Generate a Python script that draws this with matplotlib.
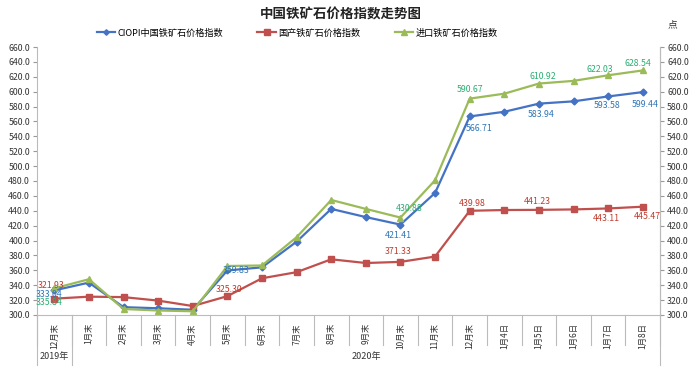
import matplotlib
matplotlib.use("Agg")
import matplotlib.pyplot as plt
import numpy as np

plt.rcParams['font.family'] = ['Noto Sans CJK SC', 'DejaVu Sans']

# categories on the x axis
categories = ['12月末', '1月末', '2月末', '3月末', '4月末', '5月末', '6月末', '7月末',
              '8月末', '9月末', '10月末', '11月末', '12月末',
              '1月4日', '1月5日', '1月6日', '1月7日', '1月8日']

# series values
ciopi = [333.04, 343.5, 310.5, 309.0, 307.0, 359.83, 364.0, 398.5, 442.5, 431.5, 421.41,
         464.0, 566.71, 573.0, 583.94, 587.0, 593.58, 599.44]
domestic = [321.93, 324.6, 324.0, 319.3, 312.0, 325.30, 349.3, 357.5, 374.8, 369.8, 371.33,
            378.5, 439.98, 441.0, 441.23, 441.8, 443.11, 445.47]
imported = [335.84, 348.0, 308.0, 306.0, 305.0, 365.8, 366.5, 404.5, 454.5, 442.5, 430.88,
            481.0, 590.67, 597.3, 610.92, 614.5, 622.03, 628.54]

# which points carry a data label, and where (offset in points)
ciopi_labels = {0: (-3.6, -3), 5: (6, 0), 10: (-1.5, -8), 12: (7, -8.5), 14: (1.5, -7.7),
                16: (-0.7, -6.5), 17: (2, -8.6)}
domestic_labels = {0: (-2.4, 9.5), 5: (1.5, 4.5), 10: (-1.5, 7.2), 12: (1.5, 5.3),
                   14: (-1, 5.8), 16: (-1.5, -7.4), 17: (3, -7.2)}
imported_labels = {0: (-3.6, -10), 10: (6.5, 6.5), 12: (0, 6.5), 14: (2.5, 5),
                   16: (-6, 4.5), 17: (-3.2, 5)}

years = ['2019年', '2020年']
ticks = np.arange(300, 661, 20)

blue, red, green = '#4472C4', '#C0504D', '#9BBB59'
blue_t, red_t, green_t = '#2E75B6', '#C0392B', '#2BAE72'

fig = plt.figure(figsize=(6.98, 3.71), dpi=100)
ax = fig.add_axes([0.053, 0.151, 0.8927, 0.7223])
x = np.arange(len(categories))

ax.plot(x, ciopi, color=blue, lw=1.6, marker='D', ms=3.5, label='CIOPI中国铁矿石价格指数')
ax.plot(x, domestic, color=red, lw=1.6, marker='s', ms=5, label='国产铁矿石价格指数')
ax.plot(x, imported, color=green, lw=1.6, marker='^', ms=5, label='进口铁矿石价格指数')

for vals, labs, c in [(ciopi, ciopi_labels, blue_t), (domestic, domestic_labels, red_t),
                      (imported, imported_labels, green_t)]:
    for i, off in labs.items():
        ax.annotate(f'{vals[i]:.2f}', (x[i], vals[i]), xytext=off, textcoords='offset points',
                    ha='center', va='center', fontsize=6.3, color=c)

ax.set_xlim(-0.5, len(categories) - 0.5)
ax.set_ylim(300, 660)
ax.set_yticks(ticks)
ax.set_yticklabels([f'{t:.1f}' for t in ticks], fontsize=6.3, color='#333333')
ax.tick_params(axis='y', length=3, color='#999999', pad=2)
ax.set_xticks([])

ax.spines['top'].set_visible(False)
for s in ['left', 'right', 'bottom']:
    ax.spines[s].set_color('#bbbbbb')

ax2 = ax.twinx()
ax2.set_ylim(300, 660)
ax2.set_yticks(ticks)
ax2.set_yticklabels([f'{t:.1f}' for t in ticks], fontsize=6.3, color='#333333')
ax2.tick_params(axis='y', length=3, color='#999999', pad=2)
for s in ['top', 'left', 'bottom']:
    ax2.spines[s].set_visible(False)
ax2.spines['right'].set_color('#bbbbbb')

# category labels and separators
trans = ax.get_xaxis_transform()
for i, lab in enumerate(categories):
    ax.text(x[i], -0.03, lab, rotation=90, ha='center', va='top', fontsize=6,
            color='#333333', transform=trans)
for b in np.arange(-0.5, len(categories), 1.0):
    ax.plot([b, b], [0, -0.112], color='#bbbbbb', lw=0.8, transform=trans, clip_on=False)
for b in [-0.5, 0.5, len(categories) - 0.5]:
    ax.plot([b, b], [0, -0.187], color='#bbbbbb', lw=0.8, transform=trans, clip_on=False)
ax.text(0, -0.155, years[0], ha='center', va='center', fontsize=6.5, color='#333333',
        transform=trans)
ax.text(9, -0.155, years[1], ha='center', va='center', fontsize=6.5, color='#333333',
        transform=trans)

fig.text(0.488, 0.96, '中国铁矿石价格指数走势图', ha='center', va='center', fontsize=9.7,
         fontweight='bold', color='#222222')
fig.text(0.964, 0.935, '点', ha='center', va='center', fontsize=7, color='#333333')

ax.legend(loc='center', bbox_to_anchor=(0.426, 0.911), bbox_transform=fig.transFigure,
          ncol=3, frameon=False, fontsize=6.6, handlelength=2, columnspacing=3.7,
          handletextpad=0.3, markerscale=0.8)

fig.savefig('out.png', dpi=100)
